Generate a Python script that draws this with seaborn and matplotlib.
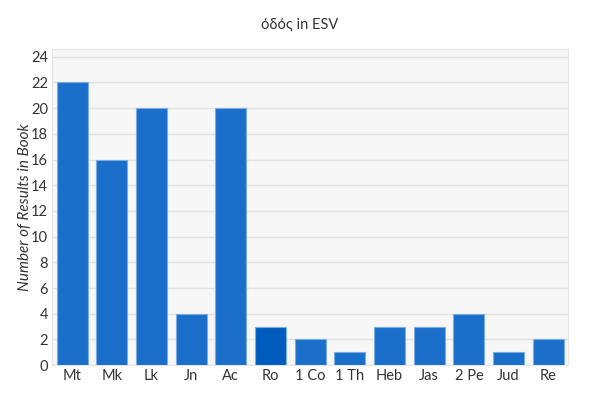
import numpy as np
import pandas as pd
import matplotlib.pyplot as plt
import seaborn as sns

books = ['Mt', 'Mk', 'Lk', 'Jn', 'Ac', 'Ro', '1 Co', '1 Th', 'Heb', 'Jas', '2 Pe', 'Jud', 'Re']
counts = [22, 16, 20, 4, 20, 3, 2, 1, 3, 3, 4, 1, 2]
highlight = 'Ro'

df = pd.DataFrame({'book': books, 'count': counts})
palette = {b: ('#005cbf' if b == highlight else '#1a6fca') for b in books}

sns.set_style("white")
plt.rcParams['font.family'] = ['Lato', 'DejaVu Sans']

fig = plt.figure(figsize=(6, 3.99), dpi=100)
ax = fig.add_axes([0.087, 0.085, 0.86, 0.792])
ax.set_facecolor('#f7f7f7')
sns.barplot(data=df, x='book', y='count', hue='book', palette=palette, legend=False,
            saturation=1, width=0.78, edgecolor='#7aaee3', linewidth=0.8, ax=ax, zorder=3)

ax.set_ylim(0, 24.6)
ax.set_xlim(-0.5, len(books) - 0.5)
ax.set_yticks(range(0, 25, 2))
ax.grid(axis='y', color='#e0e0e0', linewidth=1, zorder=0)
ax.set_axisbelow(True)
for s in ax.spines.values():
    s.set_color('#e6e6e6')
ax.tick_params(axis='both', length=0, labelsize=10.5, colors='#333333', pad=3)
ax.set_xlabel('')
ax.set_ylabel('Number of Results in Book', fontstyle='italic', fontsize=11, color='#333333')
ax.yaxis.set_label_coords(-0.039, 0.5)
fig.suptitle('όδός in ESV', y=0.955, fontsize=10.5, color='#333333')

plt.savefig('out.png')
